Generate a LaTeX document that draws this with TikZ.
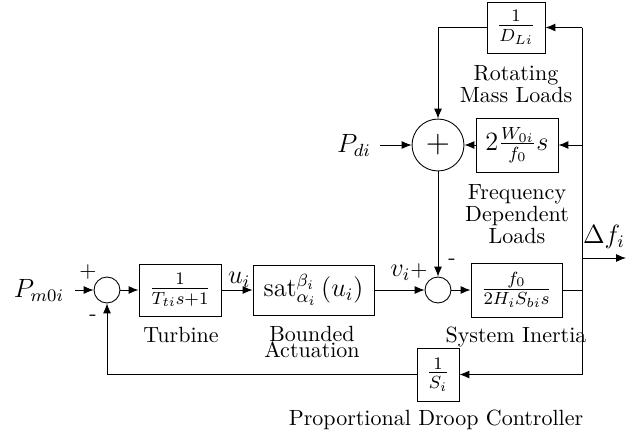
\documentclass[tikz,border=0pt]{standalone}
\usetikzlibrary{arrows.meta}
\begin{document}
\begin{tikzpicture}[x=0.4545pt,y=-0.4545pt,
  blk/.style={draw, inner sep=0pt, font=\large},
  sumc/.style={draw, circle, inner sep=0pt},
  arr/.style={-{Latex[length=4.5pt,width=3.6pt]}},
  lbl/.style={inner sep=0pt, align=center, font=\normalsize},
  sig/.style={inner sep=0pt, font=\large}]
\useasboundingbox (0,0) rectangle (626,439);
% blocks
\node[blk, minimum width=26.4pt, minimum height=23.2pt] (dl) at (516,27.5) {$\frac{1}{D_{Li}}$};
\node[blk, minimum width=37.3pt, minimum height=24.5pt] (fdl) at (517,145) {$2\frac{W_{0i}}{f_0}s$};
\node[blk, minimum width=37.3pt, minimum height=23.6pt] (tb) at (180,290) {$\frac{1}{T_{ti}s+1}$};
\node[blk, minimum width=55pt, minimum height=22.7pt] (sat) at (313.5,290) {$\mathrm{sat}_{\alpha_i}^{\beta_i}\left(u_i\right)$};
\node[blk, minimum width=41.4pt, minimum height=24.5pt] (inert) at (516.5,290) {$\frac{f_0}{2H_iS_{bi}s}$};
\node[blk, minimum width=19.1pt, minimum height=24.1pt] (droop) at (438,374.5) {$\frac{1}{S_i}$};
% summing junctions
\node[sumc, minimum size=23.6pt, font=\Large] (s3) at (438,145) {$+$};
\node[sumc, minimum size=11.8pt] (s1) at (107,290) {};
\node[sumc, minimum size=11.8pt] (s2) at (438,290) {};
% inputs / outputs
\node[sig] (pm) at (39,290) {$P_{m0i}$};
\node[sig] (pd) at (354,145) {$P_{di}$};
\node[sig] (df) at (604,237) {$\Delta f_i$};
% junction coordinates
\coordinate (tr) at (582,27.5);
\coordinate (br) at (582,374.5);
\coordinate (j1) at (582,290);
\coordinate (j2) at (582,258);
\coordinate (j3) at (582,145);
\coordinate (out) at (626,258);
% connectors
\draw[arr] (pm.east) ++(11,0) -- (s1.west);
\draw[arr] (s1.east) -- (tb.west);
\draw[arr] (tb.east) -- node[above=1pt, sig, xshift=1pt] {$u_i$} (sat.west);
\draw[arr] (sat.east) -- (s2.west);
\draw[arr] (s2.east) -- (inert.west);
\draw (inert.east) -- (j1);
\draw (br) -- (tr);
\draw[arr] (tr) -- (dl.east);
\draw[arr] (j3) -- (fdl.east);
\draw[arr] (j2) -- (out);
\draw[arr] (br) -- (droop.east);
\draw[arr] (droop.west) -| (s1.south);
\draw[arr] (dl.west) -| (s3.north);
\draw[arr] (fdl.west) -- (s3.east);
\draw[arr] (pd.east) ++(9,0) -- (s3.west);
\draw[arr] (s3.south) -- (s2.north);
% signs
\node[inner sep=0pt] at (88,272) {$+$};
\node[inner sep=0pt] at (93,318) {-};
\node[inner sep=0pt] at (409,272) {{\large $v_i$}$+$};
\node[inner sep=0pt] at (452,262) {-};
% descriptive labels
\node[lbl] at (516,84) {Rotating\\[-2pt]Mass Loads};
\node[lbl] at (517,214) {Frequency\\[-2pt]Dependent\\[-2pt]Loads};
\node[lbl] at (181,335) {Turbine};
\node[lbl] at (312,342) {Bounded\\[-5pt]Actuation};
\node[lbl] at (516,337) {System Inertia};
\node[lbl] at (436,420) {Proportional Droop Controller};
\end{tikzpicture}
\end{document}
